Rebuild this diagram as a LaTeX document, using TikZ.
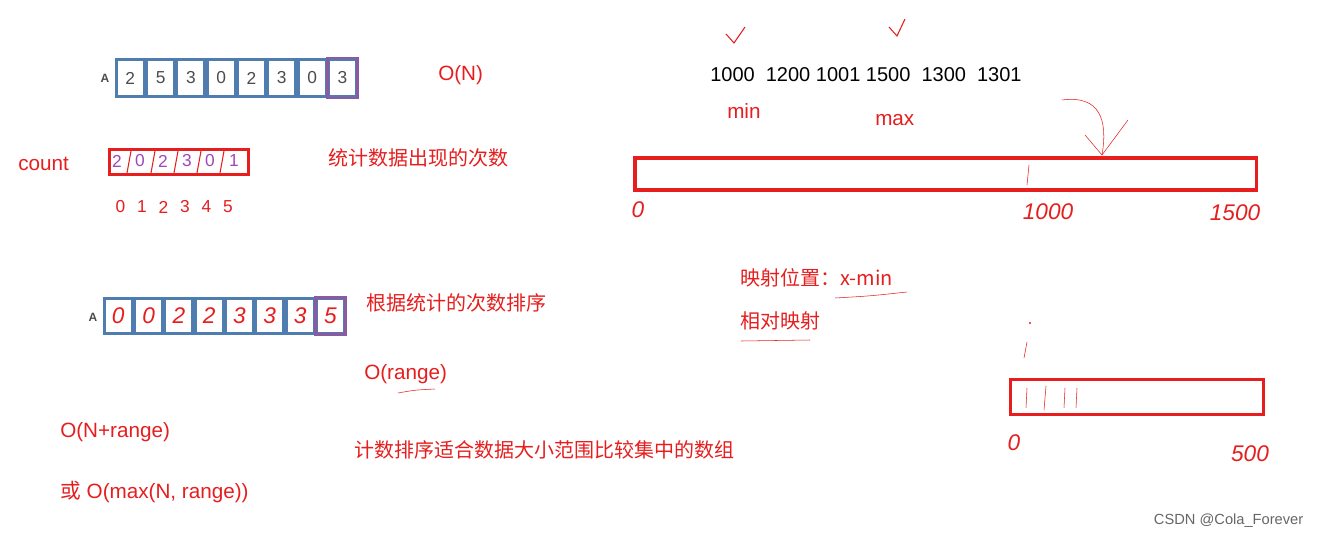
\documentclass[tikz,border=0pt]{standalone}
\usepackage{fontspec}
\setmainfont{Liberation Sans}
\newfontfamily\cjk{Noto Sans CJK SC}
\definecolor{rd}{RGB}{230,30,30}
\definecolor{bl}{RGB}{80,125,175}
\definecolor{pu}{RGB}{140,90,160}
\definecolor{hp}{RGB}{160,70,190}
\begin{document}
\begin{tikzpicture}[x=0.75pt,y=-0.75pt,
  rt/.style={text=rd,font=\fontsize{15.5}{18}\selectfont,anchor=west,inner sep=0},
  ct/.style={text=rd,font=\cjk\fontsize{15}{18}\selectfont,anchor=west,inner sep=0},
  cell/.style={draw=bl,line width=2pt,minimum width=20.7pt,minimum height=28pt,inner sep=0,font=\fontsize{13}{14}\selectfont,text=black!70},
  hw/.style={text=rd,font=\itshape\fontsize{14}{16}\selectfont,inner sep=0}]
\useasboundingbox[fill=white] (0,0) rectangle (1322,540);
% array A top
\node[font=\bfseries\fontsize{9}{10}\selectfont,text=black!70] (la) at (105,78) {A};
\foreach \v [count=\i] in {2,5,3,0,2,3,0,3}{
  \node[cell] (a\i) at (100+\i*30.3,78) {\v};}
\draw[pu,line width=2pt] (a8.north west) rectangle (a8.south east);
\node[rt] (on) at (438,75) {O(N)};
% count
\node[rt] (cnt) at (18,164) {count};
\node[draw=rd,line width=2.5pt,minimum width=104pt,minimum height=19pt,inner sep=0] (cb) at (179,162) {};
\foreach \v/\x in {2/117,0/140,2/163,3/187,0/210,1/234}{
  \node[text=hp,font=\fontsize{13}{14}\selectfont,inner sep=0] at (\x,161) {\v};}
\foreach \x in {129,153,176,199,222}{\draw[rd,thick] (\x+2,151) -- (\x-2,173);}
\foreach \v [count=\i] in {0,1,2,3,4,5}{\node[text=rd,font=\fontsize{13}{14}\selectfont] at (99+\i*21.5,207) {\v};}
\node[ct] (t1) at (328,158) {统计数据出现的次数};
% array A sorted
\node[font=\bfseries\fontsize{9}{10}\selectfont,text=black!70] (lb) at (93,317) {A};
\foreach \v [count=\i] in {0,0,2,2,3,3,3,5}{
  \node[cell,minimum height=26pt] (b\i) at (88+\i*30.3,316) {};
  \node[hw,font=\itshape\fontsize{17}{18}\selectfont] at (b\i) {\v};}
\draw[pu,line width=2pt] (b8.north west) rectangle (b8.south east);
\node[ct] (t2) at (366,303) {根据统计的次数排序};
\node[rt] (or) at (364,374) {O(range)};
\draw[rd] (398,393) .. controls (415,390) .. (435,389);
\node[rt] (onr) at (60,432) {O(N+range)};
\node[ct] (t3) at (354,450) {计数排序适合数据大小范围比较集中的数组};
\node[rt] (omax) at (60,492) {{\cjk 或} O(max(N, range))};
% right side
\node[rt,text=black,font=\fontsize{15}{18}\selectfont] (nums) at (710,75) {1000\ \ 1200 1001 1500\ \ 1300\ \ 1301};
\node[rt] (mn) at (727,111) {min};
\node[rt] (mx) at (875,120) {max};
\draw[rd,thick] (726,34) -- (734,43) -- (745,27);
\draw[rd,thick] (889,27) -- (897,36) -- (905,19);
\node[draw=rd,line width=2.5pt,minimum width=466pt,minimum height=24pt,inner sep=0] (big) at (945.5,174) {};
\draw[rd] (1029,165) -- (1027,185);
\draw[rd] (1062,100) .. controls (1100,95) and (1108,120) .. (1102,155);
\draw[rd] (1085,135) -- (1102,155) -- (1128,120);
\node[hw,font=\itshape\fontsize{17}{18}\selectfont] (z0) at (638,210) {0};
\node[hw,font=\itshape\fontsize{17}{18}\selectfont] (z1) at (1048,212) {1000};
\node[hw,font=\itshape\fontsize{17}{18}\selectfont] (z2) at (1235,213) {1500};
\node[ct] (t4) at (740,278) {映射位置：x-min};
\draw[rd] (835,298) .. controls (870,296) .. (907,292);
\node[ct] (t5) at (740,321) {相对映射};
\draw[rd] (741,341) -- (810,340);
\node[circle,fill=rd,inner sep=0.6pt] (dt) at (1030,323) {};
\draw[rd] (1027,342) -- (1024,358);
\node[draw=rd,line width=2.5pt,minimum width=190pt,minimum height=26pt,inner sep=0] (sm) at (1137,397) {};
\draw[rd] (1027,388) -- (1026,408);\draw[rd] (1046,386) -- (1044,410);
\draw[rd] (1065,388) -- (1064,408);\draw[rd] (1077,388) -- (1076,408);
\node[hw,font=\itshape\fontsize{17}{18}\selectfont] (w0) at (1014,443) {0};
\node[hw,font=\itshape\fontsize{17}{18}\selectfont] (w5) at (1250,454) {500};
\node[text=black!60,font=\fontsize{11}{12}\selectfont,anchor=east] (wm) at (1308,521) {CSDN @Cola\_Forever};
\end{tikzpicture}
\end{document}
